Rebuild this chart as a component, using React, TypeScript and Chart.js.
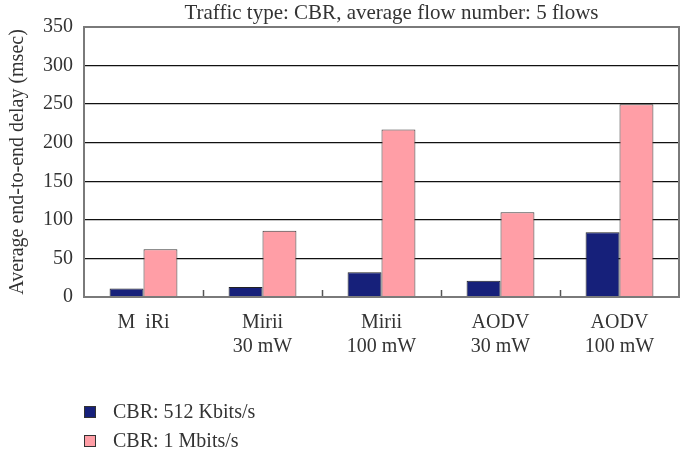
import React, { useEffect, useRef } from "react";
import { Chart, registerables } from "chart.js";

Chart.register(...registerables);

const TITLE = "Traffic type: CBR, average flow number: 5 flows";
const Y_TITLE = "Average end-to-end delay (msec)";
const categories: (string | string[])[] = [
  "M  iRi",
  ["Mirii", "30 mW"],
  ["Mirii", "100 mW"],
  ["AODV", "30 mW"],
  ["AODV", "100 mW"],
];
const seriesNames = ["CBR: 512 Kbits/s", "CBR: 1 Mbits/s"];
const cbr512 = [11, 13, 32, 21, 84];
const cbr1M = [62, 86, 217, 110, 250];
const colors = ["#16207a", "#ff9ea6"];

const FONT = "'Liberation Serif', 'Times New Roman', serif";
const TEXT = "#333333";

const decorPlugin = {
  id: "decor",
  afterDatasetsDraw(chart: any) {
    const { ctx, chartArea } = chart;
    const { left, right, top, bottom } = chartArea;
    const xs = chart.scales.x;
    ctx.save();
    // inner ticks between categories
    ctx.strokeStyle = "#555555";
    ctx.lineWidth = 1.5;
    const n = chart.data.labels.length;
    const w = (right - left) / n;
    for (let i = 1; i < n; i++) {
      const x = Math.round(xs.getPixelForValue(i) - w / 2) + 0.5;
      ctx.beginPath();
      ctx.moveTo(x, bottom);
      ctx.lineTo(x, bottom - 7);
      ctx.stroke();
    }
    // frame
    ctx.strokeStyle = "#7a7a7a";
    ctx.lineWidth = 2;
    ctx.strokeRect(left, top, right - left, bottom - top);
    ctx.restore();
  },
  afterDraw(chart: any) {
    const { ctx, chartArea } = chart;
    ctx.save();
    // title
    ctx.fillStyle = TEXT;
    ctx.font = `21px ${FONT}`;
    ctx.textAlign = "center";
    ctx.textBaseline = "middle";
    ctx.fillText(TITLE, (chartArea.left + chartArea.right) / 2 + 10, 13);
    // legend
    ctx.font = `20px ${FONT}`;
    ctx.textAlign = "left";
    const rows = [412, 441];
    chart.data.datasets.forEach((ds: any, i: number) => {
      const y = rows[i];
      ctx.fillStyle = ds.backgroundColor;
      ctx.fillRect(84, y - 6, 12, 12);
      ctx.strokeStyle = "#333";
      ctx.lineWidth = 1;
      ctx.strokeRect(84.5, y - 5.5, 11, 11);
      ctx.fillStyle = TEXT;
      ctx.fillText(ds.label, 113, y + 1);
    });
    ctx.restore();
  },
};

export default function App() {
  const ref = useRef<HTMLCanvasElement | null>(null);
  useEffect(() => {
    document.body.style.margin = "0";
    const chart = new Chart(ref.current as HTMLCanvasElement, {
      type: "bar",
      data: {
        labels: categories,
        datasets: [
          {
            label: seriesNames[0],
            data: cbr512,
            backgroundColor: colors[0],
            borderColor: "#222222",
            borderWidth: 1,
          },
          {
            label: seriesNames[1],
            data: cbr1M,
            backgroundColor: colors[1],
            borderColor: "#3a3a3a",
            borderWidth: 1,
          },
        ],
      },
      options: {
        animation: false,
        responsive: false,
        maintainAspectRatio: false,
        layout: { padding: { left: 0, right: 10, top: 27, bottom: 106 } },
        plugins: {
          legend: { display: false },
          title: { display: false },
          tooltip: { enabled: false },
        },
        datasets: {
          bar: { categoryPercentage: 0.57, barPercentage: 1 },
        },
        scales: {
          x: {
            grid: { display: false },
            border: { display: false },
            ticks: {
              color: TEXT,
              font: { family: FONT, size: 20 },
              padding: 6,
              maxRotation: 0,
              autoSkip: false,
            },
            afterFit(scale: any) {
              scale.height = 60;
            },
          },
          y: {
            min: 0,
            max: 350,
            grid: { color: "#111111", lineWidth: 1.3, drawTicks: false },
            border: { display: false },
            ticks: {
              stepSize: 50,
              color: TEXT,
              padding: 11,
              font: { family: FONT, size: 20 },
            },
            title: {
              display: true,
              text: Y_TITLE,
              color: TEXT,
              font: { family: FONT, size: 20 },
              padding: { top: 6, bottom: 0 },
            },
            afterFit(scale: any) {
              scale.width = 84;
            },
          },
        },
      },
      plugins: [decorPlugin],
    } as any);
    return () => chart.destroy();
  }, []);
  return (
    <div style={{ width: 689, height: 463 }}>
      <canvas ref={ref} width={689} height={463} style={{ display: "block" }} />
    </div>
  );
}
